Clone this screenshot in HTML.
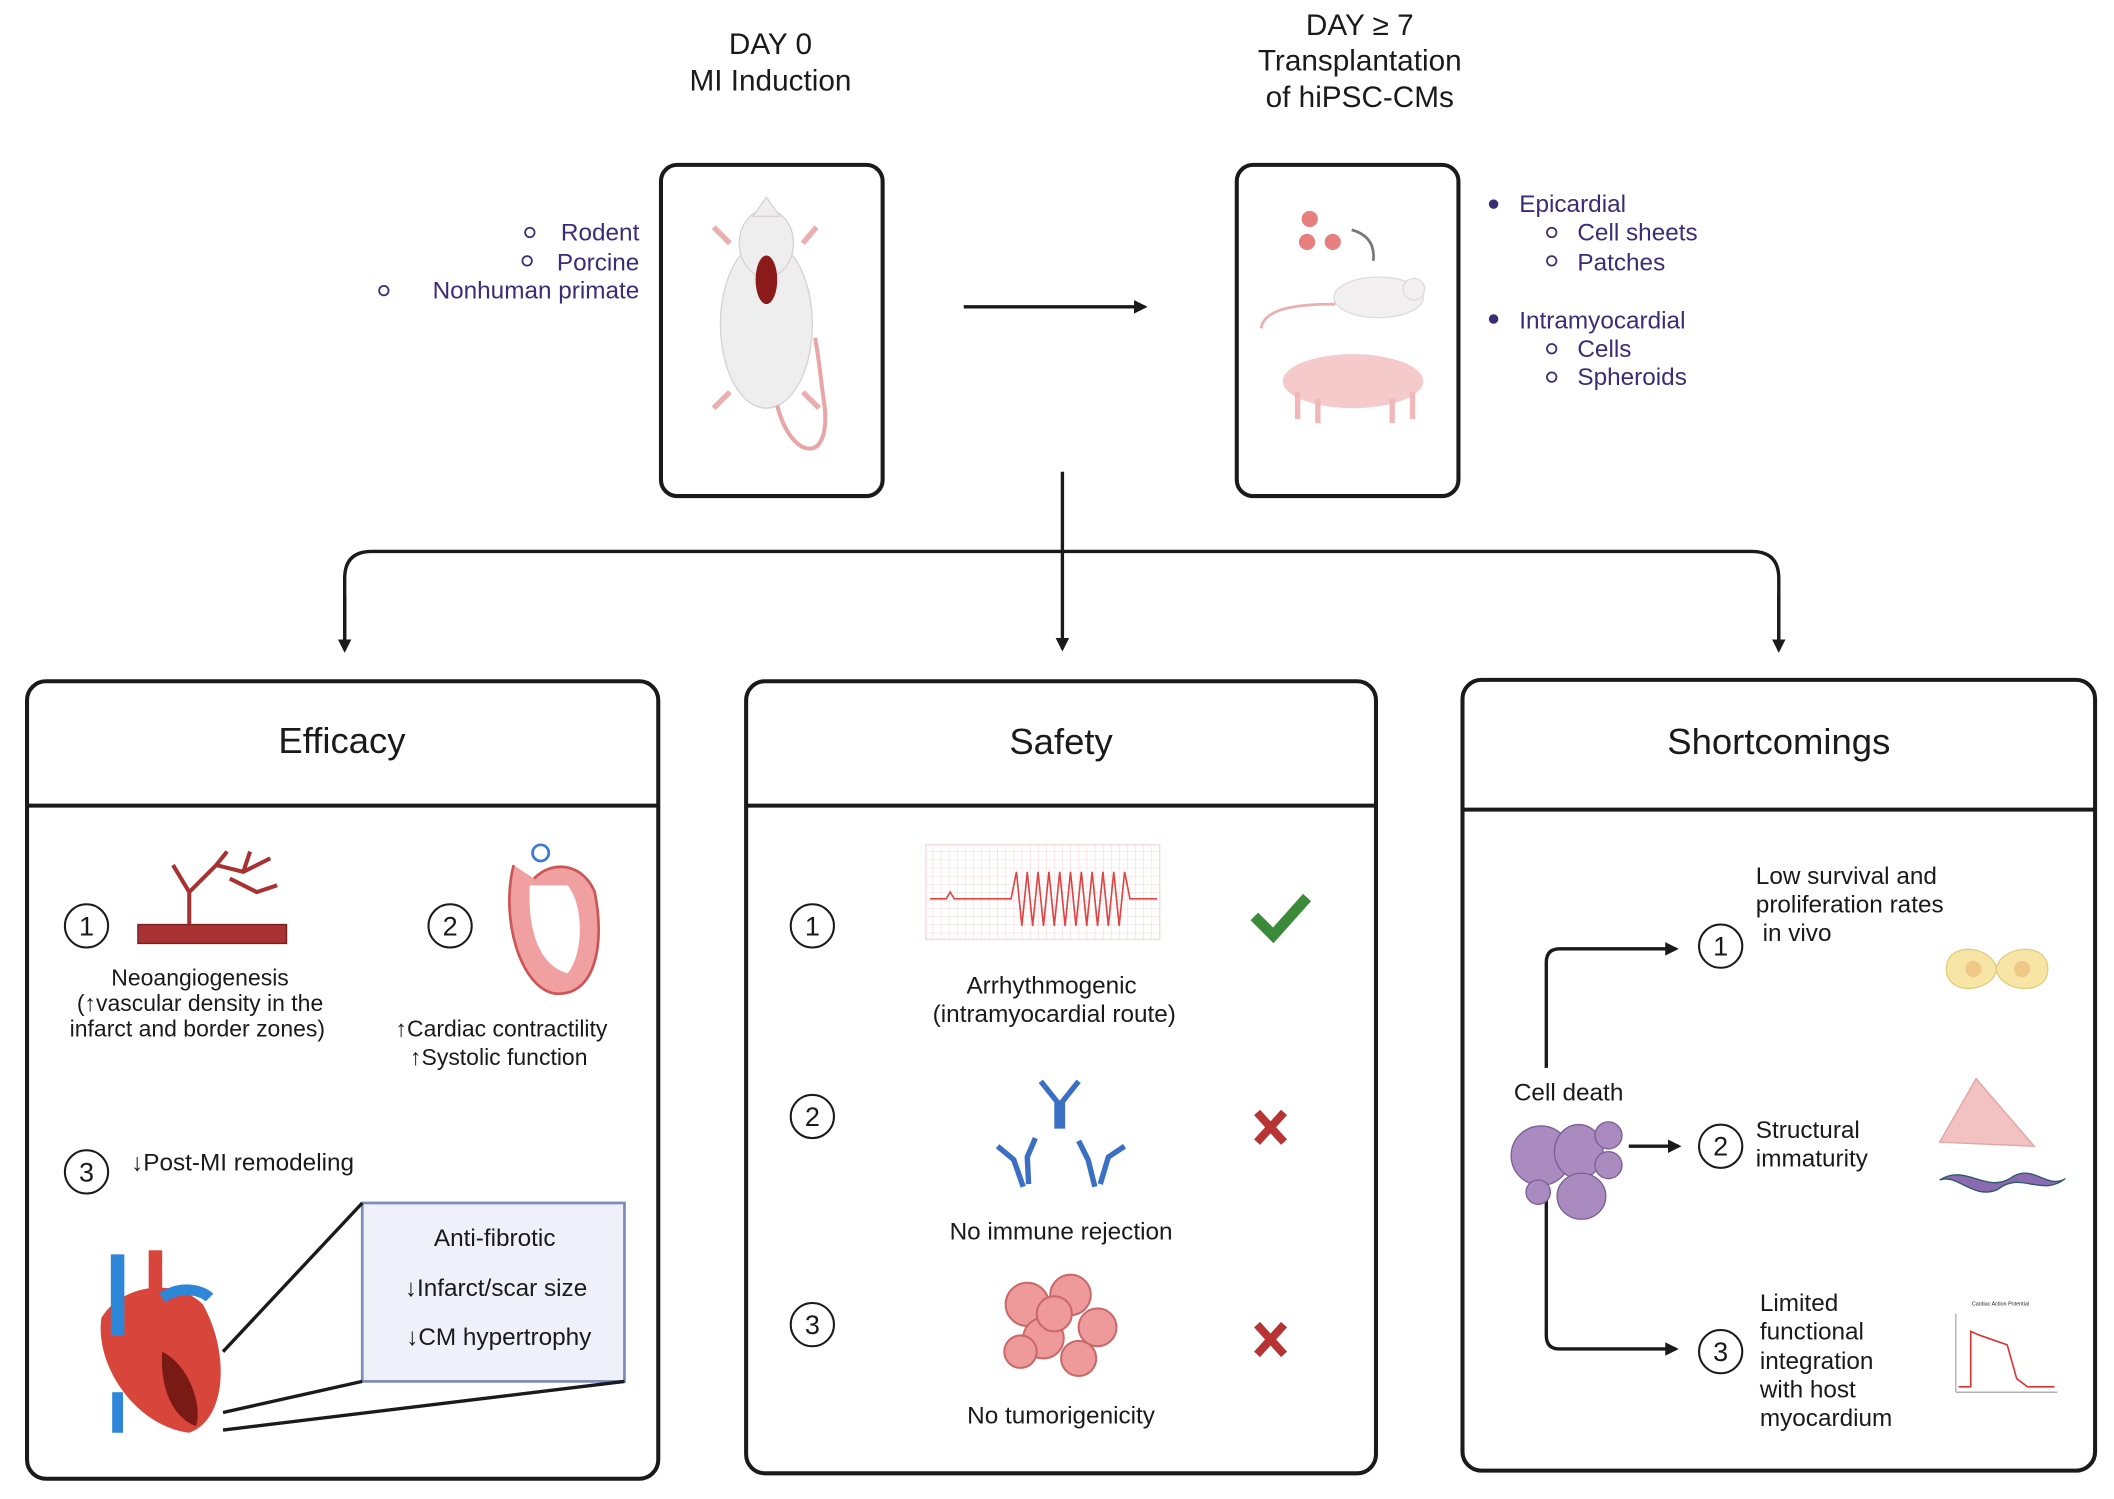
<!DOCTYPE html>
<html><head><meta charset="utf-8"><style>
html,body{margin:0;padding:0;background:#fff}
svg{display:block}
text{font-family:"Liberation Sans",sans-serif;fill:#1a1a1a}
.p{fill:#3b2c78}
.t{font-size:17px}
</style></head><body>
<svg width="2114" height="1499" viewBox="0 0 1564 1109" xmlns="http://www.w3.org/2000/svg">
<defs>
<marker id="ah" markerWidth="10" markerHeight="10" refX="8" refY="5" orient="auto" markerUnits="userSpaceOnUse"><path d="M0,0 L10,5 L0,10 z" fill="#1a1a1a"/></marker>
<pattern id="grid" width="6" height="6" patternUnits="userSpaceOnUse"><path d="M6 0H0V6" fill="none" stroke="#f3c9c9" stroke-width="0.6"/></pattern>
</defs>
<!-- top headers -->
<g font-size="22" text-anchor="middle">
<text x="570" y="40">DAY 0</text><text x="570" y="67">MI Induction</text>
<text x="1006" y="26">DAY ≥ 7</text><text x="1006" y="52">Transplantation</text><text x="1006" y="79">of hiPSC-CMs</text>
</g>
<rect x="489" y="122" width="164" height="245" rx="12" fill="none" stroke="#1a1a1a" stroke-width="3"/>
<rect x="915" y="122" width="164" height="245" rx="12" fill="none" stroke="#1a1a1a" stroke-width="3"/>
<!-- rat -->
<g>
<ellipse cx="567" cy="240" rx="34" ry="62" fill="#efeeee" stroke="#d8d2d2"/>
<ellipse cx="567" cy="180" rx="20" ry="25" fill="#efeeee" stroke="#d8d2d2"/>
<path d="M557 160 L567 146 L577 160z" fill="#efeeee" stroke="#d8d2d2"/>
<ellipse cx="567" cy="207" rx="8" ry="18" fill="#8b1a1a"/>
<path d="M540 180 L528 168 M594 180 L604 168" stroke="#e8b0b0" stroke-width="4"/>
<path d="M540 290 L528 302 M594 290 L606 302" stroke="#e8b0b0" stroke-width="4"/>
<path d="M575 300 C585 340,615 345,610 300 C607 280,606 265,603 250" fill="none" stroke="#e8a6a6" stroke-width="3"/>
</g>
<!-- left list -->
<g font-size="18" class="p" text-anchor="end">
<text class="p" x="473" y="178">Rodent</text><text class="p" x="473" y="200">Porcine</text><text class="p" x="473" y="221">Nonhuman primate</text>
</g>
<g fill="none" stroke="#3b2c78" stroke-width="1.3"><circle cx="392" cy="172" r="3.5"/><circle cx="390" cy="193" r="3.5"/><circle cx="284" cy="215" r="3.5"/></g>
<line x1="713" y1="227" x2="847" y2="227" stroke="#1a1a1a" stroke-width="2.5" marker-end="url(#ah)"/>
<!-- transplantation animals -->
<g>
<circle cx="969" cy="162" r="6" fill="#e77f7f"/><circle cx="967" cy="179" r="6" fill="#e77f7f"/><circle cx="986" cy="179" r="6" fill="#e77f7f"/>
<path d="M1000 170 Q1018 175 1016 193" fill="none" stroke="#777" stroke-width="2"/>
<ellipse cx="1020" cy="220" rx="33" ry="15" fill="#f2f0f0" stroke="#ddd"/>
<circle cx="1046" cy="214" r="8" fill="#f2f0f0" stroke="#ddd"/>
<path d="M988 225 C960 225,935 228,933 243" fill="none" stroke="#e8b0b0" stroke-width="2"/>
<ellipse cx="1001" cy="282" rx="52" ry="20" fill="#f5caca"/>
<path d="M960 290 v20 M975 295 v18 M1030 295 v18 M1045 290 v20" stroke="#f0b8b8" stroke-width="4"/>
</g>
<g font-size="18">
<text class="p" x="1124" y="157">Epicardial</text><text class="p" x="1167" y="178">Cell sheets</text><text class="p" x="1167" y="200">Patches</text>
<text class="p" x="1124" y="243">Intramyocardial</text><text class="p" x="1167" y="264">Cells</text><text class="p" x="1167" y="285">Spheroids</text>
</g>
<g fill="#3b2c78"><circle cx="1105" cy="151" r="3.5"/><circle cx="1105" cy="236" r="3.5"/></g>
<g fill="none" stroke="#3b2c78" stroke-width="1.3"><circle cx="1148" cy="172" r="3.5"/><circle cx="1148" cy="193" r="3.5"/><circle cx="1148" cy="258" r="3.5"/><circle cx="1148" cy="279" r="3.5"/></g>
<!-- connectors -->
<g stroke="#1a1a1a" stroke-width="2.5" fill="none">
<line x1="786" y1="349" x2="786" y2="480" marker-end="url(#ah)"/>
<path d="M255 480 V428 Q255 408 275 408 H1296 Q1316 408 1316 428 V480" marker-start="none"/>
<line x1="255" y1="440" x2="255" y2="481" marker-end="url(#ah)"/>
<line x1="1316" y1="440" x2="1316" y2="481" marker-end="url(#ah)"/>
</g>
<!-- panels -->
<g fill="none" stroke="#1a1a1a" stroke-width="3">
<rect x="20" y="504" width="467" height="590" rx="14"/><line x1="20" y1="596" x2="487" y2="596"/>
<rect x="552" y="504" width="466" height="586" rx="14"/><line x1="552" y1="596" x2="1018" y2="596"/>
<rect x="1082" y="503" width="468" height="585" rx="14"/><line x1="1082" y1="599" x2="1550" y2="599"/>
</g>
<g font-size="27" text-anchor="middle">
<text x="253" y="557">Efficacy</text><text x="785" y="558">Safety</text><text x="1316" y="558">Shortcomings</text>
</g>
<!-- number circles -->
<g fill="none" stroke="#1a1a1a" stroke-width="1.5">
<circle cx="64" cy="685" r="16"/><circle cx="333" cy="685" r="16"/><circle cx="64" cy="867" r="16"/>
<circle cx="601" cy="685" r="16"/><circle cx="601" cy="826" r="16"/><circle cx="601" cy="980" r="16"/>
<circle cx="1273" cy="700" r="16"/><circle cx="1273" cy="848" r="16"/><circle cx="1273" cy="1000" r="16"/>
</g>
<g font-size="20" text-anchor="middle">
<text x="64" y="692">1</text><text x="333" y="692">2</text><text x="64" y="874">3</text>
<text x="601" y="692">1</text><text x="601" y="833">2</text><text x="601" y="987">3</text>
<text x="1273" y="707">1</text><text x="1273" y="855">2</text><text x="1273" y="1007">3</text>
</g>
<!-- efficacy -->
<rect x="102" y="684" width="110" height="14" fill="#a83232" stroke="#7a1f1f"/>
<path d="M140 684 V660 L128 640 M140 660 L160 640 L168 630 M160 640 L180 645 L200 635 M170 650 L190 660 L205 655 M180 645 L185 630" fill="none" stroke="#a83232" stroke-width="3"/>
<path d="M380 640 C370 680,385 730,410 735 C440 738,448 700,440 660 C432 640,410 635,395 650" fill="#f0a0a0" stroke="#c55" stroke-width="2"/>
<path d="M392 655 C390 690,400 715,420 720 C432 705,432 670,420 655z" fill="#fff"/>
<circle cx="400" cy="631" r="6" fill="none" stroke="#3a7bd5" stroke-width="2"/>
<g font-size="17" text-anchor="middle">
<text x="148" y="729">Neoangiogenesis</text><text x="148" y="748">(↑vascular density in the</text><text x="146" y="767">infarct and border zones)</text>
<text x="371" y="767">↑Cardiac contractility</text><text x="369" y="788">↑Systolic function</text>
</g>
<text x="97" y="866" font-size="18">↓Post-MI remodeling</text>
<rect x="268" y="890" width="194" height="132" fill="#eef1fa" stroke="#7d8bb8" stroke-width="2"/>
<g font-size="18" text-anchor="middle"><text x="366" y="922">Anti-fibrotic</text><text x="367" y="959">↓Infarct/scar size</text><text x="369" y="995">↓CM hypertrophy</text></g>
<path d="M268 890 L165 1000 M268 1022 L165 1045 M462 1022 L165 1058" stroke="#1a1a1a" stroke-width="2.5"/>
<g>
<path d="M75 975 C70 1010,100 1055,140 1060 C168 1050,170 1000,150 965 C130 945,90 950,75 975z" fill="#d8453a"/>
<path d="M120 1000 C140 1010,150 1040,145 1055 C130 1050,118 1030,120 1000z" fill="#7a1a14"/>
<rect x="82" y="928" width="10" height="60" fill="#2e86d8"/><rect x="110" y="925" width="10" height="50" fill="#d8453a"/>
<path d="M120 960 C135 950,150 955,155 960" stroke="#2e86d8" stroke-width="8" fill="none"/>
<rect x="83" y="1030" width="8" height="30" fill="#2e86d8"/>
</g>
<!-- safety -->
<rect x="685" y="625" width="173" height="70" fill="url(#grid)" stroke="#f6dada"/>
<path d="M688 665 H700 L703 660 L706 665 H748 L752 645 L756 685 L760 645 L764 685 L768 645 L772 685 L776 645 L780 685 L784 645 L788 685 L792 645 L796 685 L800 645 L804 685 L808 645 L812 685 L816 645 L820 685 L824 645 L828 685 L832 645 L836 665 H856" fill="none" stroke="#d44" stroke-width="1.2"/>
<path d="M928 678 L942 692 L967 664" fill="none" stroke="#3a8a3a" stroke-width="8"/>
<path d="M930 823 L950 845 M950 823 L930 845 M930 980 L950 1002 M950 980 L930 1002" stroke="#b83333" stroke-width="6"/>
<g stroke="#3a6fc4" stroke-width="4" fill="none">
<path d="M782 835 V815 L770 800 M786 835 V815 L798 800"/>
<path d="M757 878 L750 858 L738 848 M761 876 L760 856 L766 842"/>
<path d="M810 878 L805 858 L798 844 M814 876 L820 856 L832 848"/>
</g>
<g fill="#ee9a9a" stroke="#c96868" stroke-width="1.5">
<circle cx="760" cy="965" r="16"/><circle cx="792" cy="958" r="15"/><circle cx="812" cy="982" r="14"/><circle cx="772" cy="990" r="15"/><circle cx="798" cy="1005" r="13"/><circle cx="755" cy="1000" r="12"/><circle cx="780" cy="972" r="13"/>
</g>
<g font-size="18" text-anchor="middle">
<text x="778" y="735">Arrhythmogenic</text><text x="780" y="756">(intramyocardial route)</text>
<text x="785" y="917">No immune rejection</text><text x="785" y="1053">No tumorigenicity</text>
</g>
<!-- shortcomings -->
<g stroke="#1a1a1a" stroke-width="2.5" fill="none">
<path d="M1144 790 V712 Q1144 702 1154 702 H1240" marker-end="url(#ah)"/>
<path d="M1144 862 V988 Q1144 998 1154 998 H1240" marker-end="url(#ah)"/>
<line x1="1205" y1="848" x2="1242" y2="848" marker-end="url(#ah)"/>
</g>
<text x="1120" y="814" font-size="18">Cell death</text>
<g fill="#a98bbf" stroke="#7d5f98" stroke-width="1">
<ellipse cx="1140" cy="855" rx="22" ry="22"/><ellipse cx="1168" cy="852" rx="18" ry="20"/><circle cx="1190" cy="840" r="10"/><ellipse cx="1170" cy="885" rx="18" ry="17"/><circle cx="1190" cy="862" r="10"/><circle cx="1138" cy="882" r="9"/>
</g>
<g font-size="18">
<text x="1299" y="654">Low survival and</text><text x="1299" y="675">proliferation rates</text><text x="1304" y="696">in vivo</text>
<text x="1299" y="842">Structural</text><text x="1299" y="863">immaturity</text>
<text x="1302" y="970">Limited</text><text x="1302" y="991">functional</text><text x="1302" y="1013">integration</text><text x="1302" y="1034">with host</text><text x="1302" y="1055">myocardium</text>
</g>
<path d="M1440 717 C1440 695,1475 700,1477 717 C1479 700,1515 695,1515 717 C1515 738,1479 734,1477 717 C1475 734,1440 738,1440 717z" fill="#f7e5a6" stroke="#e3cd80"/>
<circle cx="1460" cy="717" r="6" fill="#f0c888"/><circle cx="1496" cy="717" r="6" fill="#f0c888"/>
<path d="M1462 798 L1435 845 L1505 848z" fill="#f2c2c2" stroke="#e3a3a3"/>
<path d="M1435 873 C1455 860,1470 885,1490 870 C1505 862,1515 880,1528 872 C1510 886,1495 866,1478 880 C1460 888,1448 868,1435 873z" fill="#8a6ab0" stroke="#2a5a6a"/>
<line x1="1447" y1="972" x2="1447" y2="1030" stroke="#999" stroke-width="0.8"/><line x1="1447" y1="1030" x2="1522" y2="1030" stroke="#999" stroke-width="0.8"/>
<path d="M1449 1026 H1458 V985 L1465 988 L1485 995 L1492 1020 L1500 1026 H1520" fill="none" stroke="#d33" stroke-width="1.2"/>
<text x="1480" y="966" font-size="4" text-anchor="middle">Cardiac Action Potential</text>
</svg>
</body></html>
